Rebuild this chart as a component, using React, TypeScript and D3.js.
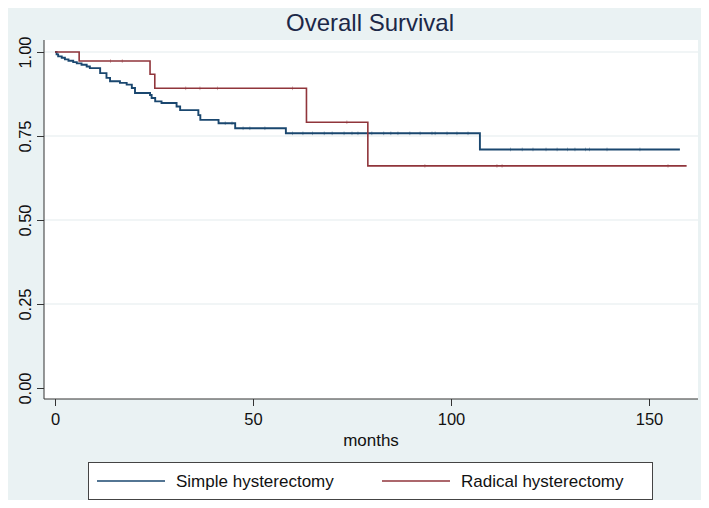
import React, { useEffect, useRef } from 'react';
import * as d3 from 'd3';

// step times (months) and survival after each drop
const simpleTimes = [0.4, 0.8, 1.7, 2.5, 3.4, 4.6, 5.5, 6.7, 8.0, 8.8, 11.4, 13.0, 13.9, 16.4, 18.1, 19.4, 20.2, 24.0, 24.4, 25.3, 26.9, 30.7, 31.6, 36.2, 36.7, 41.3, 45.5, 58.3, 107.3];
const simpleSurv = [0.993, 0.987, 0.983, 0.978, 0.974, 0.970, 0.966, 0.962, 0.957, 0.952, 0.937, 0.923, 0.913, 0.908, 0.903, 0.893, 0.878, 0.872, 0.863, 0.853, 0.848, 0.838, 0.827, 0.812, 0.798, 0.788, 0.773, 0.758, 0.710];
const simpleEnd = 157.8;
const simpleCensor = [43, 44.7, 47.5, 49.2, 53, 60, 62.6, 65, 68, 70, 73, 75, 76.5, 80, 83, 84.8, 86.6, 89.6, 92.2, 95.2, 96, 99, 101.5, 104.3, 115, 118, 120.7, 124, 126.8, 129.4, 131.3, 134, 135, 139.4, 147.7];

const radicalTimes = [6.1, 24.0, 25.2, 63.5, 79.0];
const radicalSurv = [0.973, 0.934, 0.892, 0.791, 0.661];
const radicalEnd = 159.5;
const radicalCensor = [14, 17, 33, 36.6, 41, 60, 73.7, 93.4, 111.6, 112.9, 154.8];

const xTicks = [0, 50, 100, 150];
const yTicks = [0, 0.25, 0.5, 0.75, 1];
const legendLabels = ['Simple hysterectomy', 'Radical hysterectomy'];

const BLUE = '#1a476f';
const RED = '#90353b';
const BG = '#eaf2f3';
const FONT = '"Liberation Sans", Arial, Helvetica, sans-serif';

function survAt(times: number[], surv: number[], t: number) {
  let s = 1;
  for (let i = 0; i < times.length; i++) if (times[i] <= t) s = surv[i];
  return s;
}

export default function App() {
  const ref = useRef<SVGSVGElement>(null);

  useEffect(() => {
    const svg = d3.select(ref.current);
    svg.selectAll('*').remove();
    const width = 709;
    const height = 508;

    const x = d3.scaleLinear().domain([0, 150]).range([55, 649]);
    const y = d3.scaleLinear().domain([0, 1]).range([388, 52]);
    const left = 44, right = 698, top = 40, bottom = 399;

    svg.append('rect').attr('width', width).attr('height', height).attr('fill', BG);
    svg.append('rect').attr('x', left).attr('y', top).attr('width', right - left).attr('height', bottom - top).attr('fill', '#fff');

    // gridlines
    svg.append('g').selectAll('line').data(yTicks.filter(d => d > 0)).join('line')
      .attr('x1', left).attr('x2', right)
      .attr('y1', d => y(d)).attr('y2', d => y(d))
      .attr('stroke', '#e3ecee').attr('stroke-width', 1.2);

    // title
    svg.append('text').attr('x', 370).attr('y', 31).attr('text-anchor', 'middle')
      .attr('font-family', FONT).attr('font-size', 24).attr('fill', '#1c2848')
      .text('Overall Survival');

    // axes
    const yAxis = svg.append('g').attr('transform', `translate(${left},0)`)
      .call(d3.axisLeft(y).tickValues(yTicks).tickSize(7).tickFormat(d3.format('.2f')));
    yAxis.select('.domain').attr('d', `M0,${top}V${bottom}`);
    yAxis.selectAll('.tick text')
      .attr('transform', 'rotate(-90)')
      .attr('x', 0).attr('y', -13).attr('dy', 0)
      .attr('text-anchor', 'middle');

    const xAxis = svg.append('g').attr('transform', `translate(0,${bottom})`)
      .call(d3.axisBottom(x).tickValues(xTicks).tickSize(7).tickFormat(d3.format('d')));
    xAxis.select('.domain').attr('d', `M${left},0H${right}`);
    xAxis.selectAll('.tick text').attr('y', 26).attr('dy', 0);

    svg.selectAll('.domain, .tick line').attr('stroke', '#333');
    svg.selectAll('.tick text').attr('font-family', FONT).attr('font-size', 16.5).attr('fill', '#111');

    svg.append('text').attr('x', 371).attr('y', 446).attr('text-anchor', 'middle')
      .attr('font-family', FONT).attr('font-size', 17).attr('fill', '#111').text('months');

    const line = d3.line<[number, number]>().x(d => x(d[0])).y(d => y(d[1])).curve(d3.curveStepAfter);

    const series = [
      { times: simpleTimes, surv: simpleSurv, end: simpleEnd, censor: simpleCensor, color: BLUE, w: 1.9 },
      { times: radicalTimes, surv: radicalSurv, end: radicalEnd, censor: radicalCensor, color: RED, w: 1.6 },
    ];

    series.forEach(s => {
      const pts: [number, number][] = [[0, 1]];
      s.times.forEach((t, i) => pts.push([t, s.surv[i]]));
      pts.push([s.end, s.surv[s.surv.length - 1]]);
      svg.append('path').attr('d', line(pts)).attr('fill', 'none')
        .attr('stroke', s.color).attr('stroke-width', s.w);
      svg.append('g').selectAll('line').data(s.censor).join('line')
        .attr('x1', d => x(d)).attr('x2', d => x(d))
        .attr('y1', d => y(survAt(s.times, s.surv, d)) - 1.8)
        .attr('y2', d => y(survAt(s.times, s.surv, d)) + 1.8)
        .attr('stroke', s.color).attr('stroke-width', 0.7).attr('opacity', 0.6);
    });

    // legend
    const lg = svg.append('g');
    lg.append('rect').attr('x', 88.5).attr('y', 462.5).attr('width', 564).attr('height', 37)
      .attr('fill', '#fff').attr('stroke', '#444').attr('stroke-width', 1);
    const lx = [97, 382];
    legendLabels.forEach((lab, i) => {
      lg.append('line').attr('x1', lx[i]).attr('x2', lx[i] + 68).attr('y1', 481).attr('y2', 481)
        .attr('stroke', series[i].color).attr('stroke-width', 1.5);
      lg.append('text').attr('x', lx[i] + 79).attr('y', 487).attr('font-family', FONT)
        .attr('font-size', 17).attr('fill', '#111').text(lab);
    });
  }, []);

  return (
    <div style={{ margin: -8 }}>
      <svg ref={ref} width={709} height={508} style={{ display: 'block' }} />
    </div>
  );
}
